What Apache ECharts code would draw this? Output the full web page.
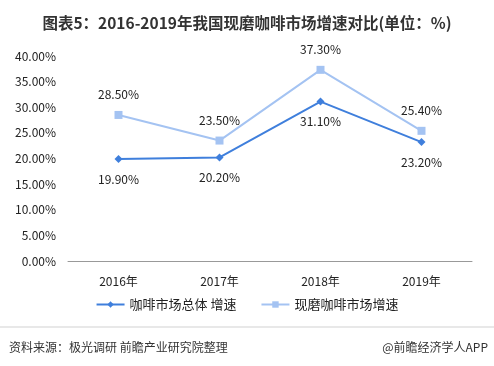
<!DOCTYPE html>
<html><head><meta charset="utf-8">
<script src="https://cdn.jsdelivr.net/npm/echarts@6/dist/echarts.min.js"></script>
<style>html,body{margin:0;padding:0;background:#fff;}#c{width:494px;height:366px;}</style>
</head><body><div id="c"></div>
<script>
var categories = ['2016年','2017年','2018年','2019年'];
var totalGrowth = [19.9, 20.2, 31.1, 23.2];
var freshGrowth = [28.5, 23.5, 37.3, 25.4];
var seriesNames = ['咖啡市场总体 增速','现磨咖啡市场增速'];
var yTicks = {min:0, max:40, interval:5};

var chart = echarts.init(document.getElementById('c'));
var font = "'Microsoft YaHei','Noto Sans CJK SC',sans-serif";
chart.setOption({
  animation:false,
  title:[{text:'图表5：2016-2019年我国现磨咖啡市场增速对比(单位：%)',left:'center',top:10,
    textStyle:{fontSize:15.5,fontWeight:'bold',color:'#333',fontFamily:font}},
    {text:'资料来源：极光调研 前瞻产业研究院整理',left:4,top:336,textStyle:{fontSize:12,fontWeight:'normal',color:'#333',fontFamily:font}},
    {text:'@前瞻经济学人APP',right:1,top:336,textStyle:{fontSize:12,fontWeight:'normal',color:'#333',fontFamily:font}}],
  graphic:[{type:'line',shape:{x1:0,y1:327,x2:494,y2:327},style:{stroke:'#e8e8e8',lineWidth:2}}],
  legend:{bottom:50,left:'center',itemGap:24,itemWidth:28,itemHeight:8,
    textStyle:{fontSize:13,color:'#222',fontFamily:font},
    data:seriesNames},
  grid:{left:68,right:22,top:56,bottom:105},
  xAxis:{type:'category',data:categories,
    axisLine:{lineStyle:{color:'#999'}},axisTick:{show:false},
    axisLabel:{fontSize:12,color:'#222',margin:14,fontFamily:font}},
  yAxis:{type:'value',min:yTicks.min,max:yTicks.max,interval:yTicks.interval,
    axisLine:{show:false},axisTick:{show:false},splitLine:{show:false},
    axisLabel:{fontSize:12,color:'#222',margin:12,fontFamily:font,formatter:function(v){return v.toFixed(2)+'%';}}},
  series:[
    {name:seriesNames[0],type:'line',data:totalGrowth,symbol:'diamond',symbolSize:8,
     itemStyle:{color:'#3f7fdc'},lineStyle:{width:2,color:'#3f7fdc'},
     label:{show:true,position:'bottom',distance:10,fontSize:12,color:'#222',fontFamily:font,formatter:function(p){return p.value.toFixed(2)+'%';}}},
    {name:seriesNames[1],type:'line',data:freshGrowth,symbol:'rect',symbolSize:8,
     itemStyle:{color:'#a4c3f2'},lineStyle:{width:2,color:'#a4c3f2'},
     label:{show:true,position:'top',distance:10,fontSize:12,color:'#222',fontFamily:font,formatter:function(p){return p.value.toFixed(2)+'%';}}}
  ]
});
</script></body></html>
